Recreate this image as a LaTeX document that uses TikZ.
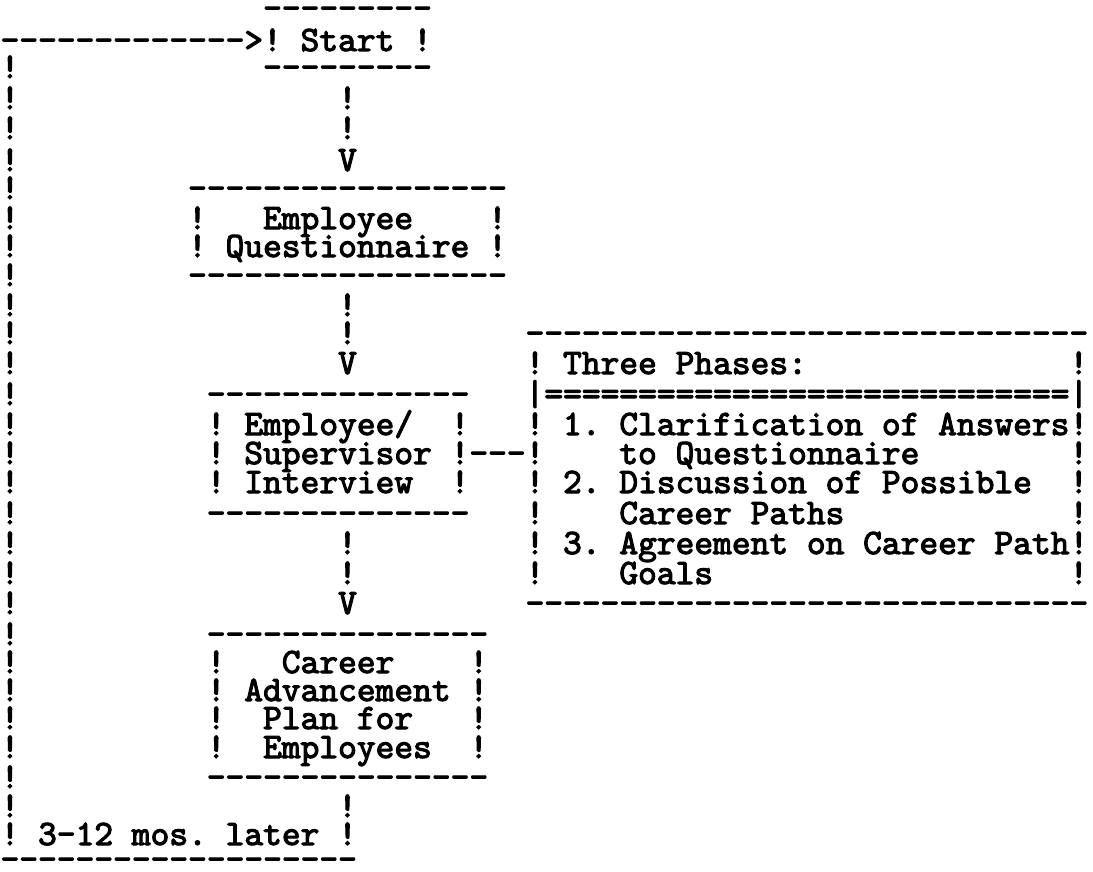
\documentclass[tikz,border=0pt]{standalone}
\usepackage{fontspec}
\newfontfamily\twfont{lmmono10-regular.otf}[FakeBold=3]
\newcommand\rep[2]{\foreach\i in {1,...,#1}{#2\kern0pt}}
\tikzset{tw/.style={anchor=base west, inner sep=0pt, outer sep=0pt,
  font=\twfont\fontsize{17.86pt}{20pt}\selectfont\frenchspacing}}
\newcommand\tx[4]{\node[tw] (#1) at ({0.6+18.75*#2},{#3+9}) {#4};}
\begin{document}
\begin{tikzpicture}[x=0.5pt,y=-0.5pt]
\useasboundingbox (0,0) rectangle (1093,872);
% loop-back rail on the left
\foreach \n/\y in {2/69,3/100,4/130,5/162,6/190,7/220,8/248,9/277,10/307,11/335,12/365,13/396,14/426,15/455,16/484,17/515,18/545,19/575,20/605,21/636,22/664,23/692,24/720,25/749,26/779,27/808}{
  \tx{rail\n}{0}{\y}{!}
}
% Start
\tx{startTop}{14}{10}{\rep{9}{-}}
\tx{loopArrow}{0}{42}{\rep{13}{-}>}
\tx{start}{14}{42}{! Start !}
\tx{startBot}{14}{69}{\rep{9}{-}}
\tx{c3}{18}{100}{!}
\tx{c4}{18}{130}{!}
\tx{v1}{18}{162}{V}
% Employee Questionnaire
\tx{eqTop}{10}{190}{\rep{17}{-}}
\tx{eqL1}{10}{220}{!}
\tx{eqT1}{14}{220}{Employee}
\tx{eqR1}{26}{220}{!}
\tx{eqT2}{10}{248}{! Questionnaire !}
\tx{eqBot}{10}{277}{\rep{17}{-}}
\tx{c10}{18}{307}{!}
\tx{c11}{18}{335}{!}
\tx{v2}{18}{365}{V}
% Three phases box
\tx{tpTop}{28}{335}{\rep{30}{-}}
\tx{tpHead}{28}{365}{! Three Phases:}
\tx{tpR12}{57}{365}{!}
\tx{tpRule}{28}{396}{|\rep{28}{=}|}
\tx{tp1}{28}{426}{! 1. Clarification of Answers!}
\tx{tpL15}{28}{455}{!}
\tx{tp1b}{33}{455}{to Questionnaire}
\tx{tpR15}{57}{455}{!}
\tx{tp2}{28}{484}{! 2. Discussion of Possible}
\tx{tpR16}{57}{484}{!}
\tx{tpL17}{28}{515}{!}
\tx{tp2b}{33}{515}{Career Paths}
\tx{tpR17}{57}{515}{!}
\tx{tp3}{28}{545}{! 3. Agreement on Career Path!}
\tx{tpL19}{28}{575}{!}
\tx{tp3b}{33}{575}{Goals}
\tx{tpR19}{57}{575}{!}
\tx{tpBot}{28}{605}{\rep{30}{-}}
% Employee/Supervisor Interview
\tx{esTop}{11}{396}{\rep{14}{-}}
\tx{esT1}{11}{426}{! Employee/}
\tx{esR1}{24}{426}{!}
\tx{esT2}{11}{455}{! Supervisor !}
\tx{link}{25}{455}{\rep{3}{-}}
\tx{esT3}{11}{484}{! Interview}
\tx{esR3}{24}{484}{!}
\tx{esBot}{11}{515}{\rep{14}{-}}
\tx{c18}{18}{545}{!}
\tx{c19}{18}{575}{!}
\tx{v3}{18}{605}{V}
% Career Advancement Plan
\tx{capTop}{11}{636}{\rep{15}{-}}
\tx{capL1}{11}{664}{!}
\tx{capT1}{15}{664}{Career}
\tx{capR1}{25}{664}{!}
\tx{capT2}{11}{692}{! Advancement !}
\tx{capL3}{11}{720}{!}
\tx{capT3}{14}{720}{Plan for}
\tx{capR3}{25}{720}{!}
\tx{capL4}{11}{749}{!}
\tx{capT4}{14}{749}{Employees}
\tx{capR4}{25}{749}{!}
\tx{capBot}{11}{779}{\rep{15}{-}}
\tx{c27}{18}{808}{!}
% loop back
\tx{later}{0}{836}{! 3-12 mos. later !}
\tx{loopBot}{0}{861}{\rep{19}{-}}
\end{tikzpicture}
\end{document}
